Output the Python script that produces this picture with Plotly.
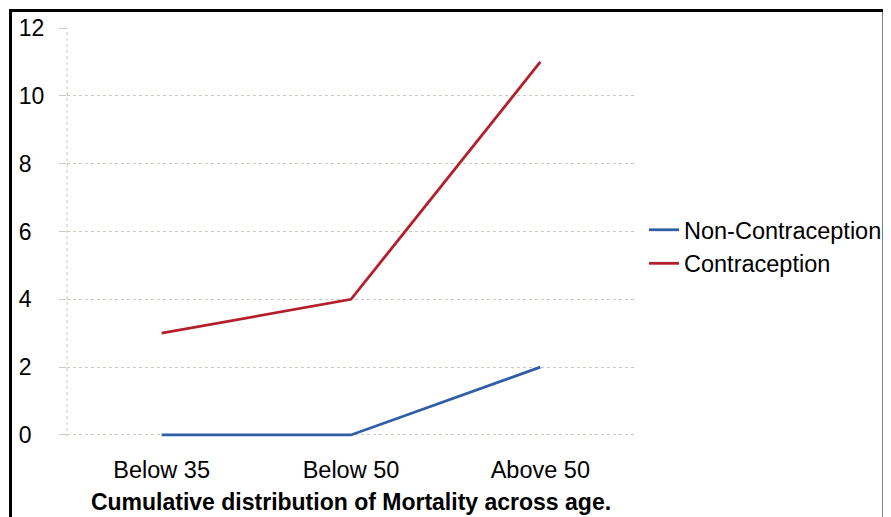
import plotly.graph_objects as go

categories = ["Below 35", "Below 50", "Above 50"]
non_contraception = [0, 0, 2]
contraception = [3, 4, 11]
y_ticks = [0, 2, 4, 6, 8, 10, 12]
y_tick_labels = ["0\u2007", "2\u2007", "4\u2007", "6\u2007", "8\u2007", "10", "12"]

FONT = "Arial, Liberation Sans, sans-serif"

fig = go.Figure()
fig.add_trace(go.Scatter(x=categories, y=non_contraception, mode="lines",
                         name="Non-Contraception",
                         line=dict(color="#2f5da6", width=2.8)))
fig.add_trace(go.Scatter(x=categories, y=contraception, mode="lines",
                         name="Contraception",
                         line=dict(color="#b3202c", width=2.8)))

# page renders with an 8px body offset
OFF = 8
L, R, T, B = 59, 264, 20, 88
W, H = 891, 517
pw, ph = W - L - R, H - T - B

def px(xs):
    return (xs - OFF - L) / pw

def py(ys):
    return (H - B - (ys - OFF)) / ph

fig.update_layout(
    width=W, height=H,
    margin=dict(l=L, r=R, t=T, b=B, autoexpand=False),
    paper_bgcolor="white", plot_bgcolor="white",
    font=dict(family=FONT, size=23, color="black"),
    showlegend=True,
    legend=dict(x=px(644), y=py(247), xanchor="left", yanchor="middle",
                traceorder="normal",
                font=dict(size=23.5), bgcolor="rgba(0,0,0,0)", itemwidth=30),
    xaxis=dict(type="category", range=[-0.5, 2.5], showgrid=False,
               showline=False, zeroline=False, ticks="", automargin=False,
               ticklabelstandoff=16, tickfont=dict(size=23.5),
               title=dict(text="<b>Cumulative distribution of Mortality across age.</b>",
                          font=dict(size=23), standoff=12)),
    yaxis=dict(range=[-0.06, 12], tickvals=y_ticks, ticktext=y_tick_labels,
               showgrid=True, gridcolor="#c9c9bc", griddash="dot", gridwidth=1,
               zeroline=False, showline=False, ticks="outside", ticklen=7,
               automargin=False,
               tickcolor="#c9c9bc", ticklabelstandoff=10, tickfont=dict(size=23)),
    shapes=[
        dict(type="line", xref="paper", yref="paper", x0=0, x1=0, y0=0, y1=1,
             line=dict(color="#c9c9bc", width=1, dash="dot"), layer="below"),
        dict(type="rect", xref="paper", yref="paper",
             x0=px(10.5), x1=px(884), y0=py(10.5), y1=py(540),
             line=dict(color="black", width=3), fillcolor="rgba(0,0,0,0)"),
    ],
)

fig.write_html("out.html")
